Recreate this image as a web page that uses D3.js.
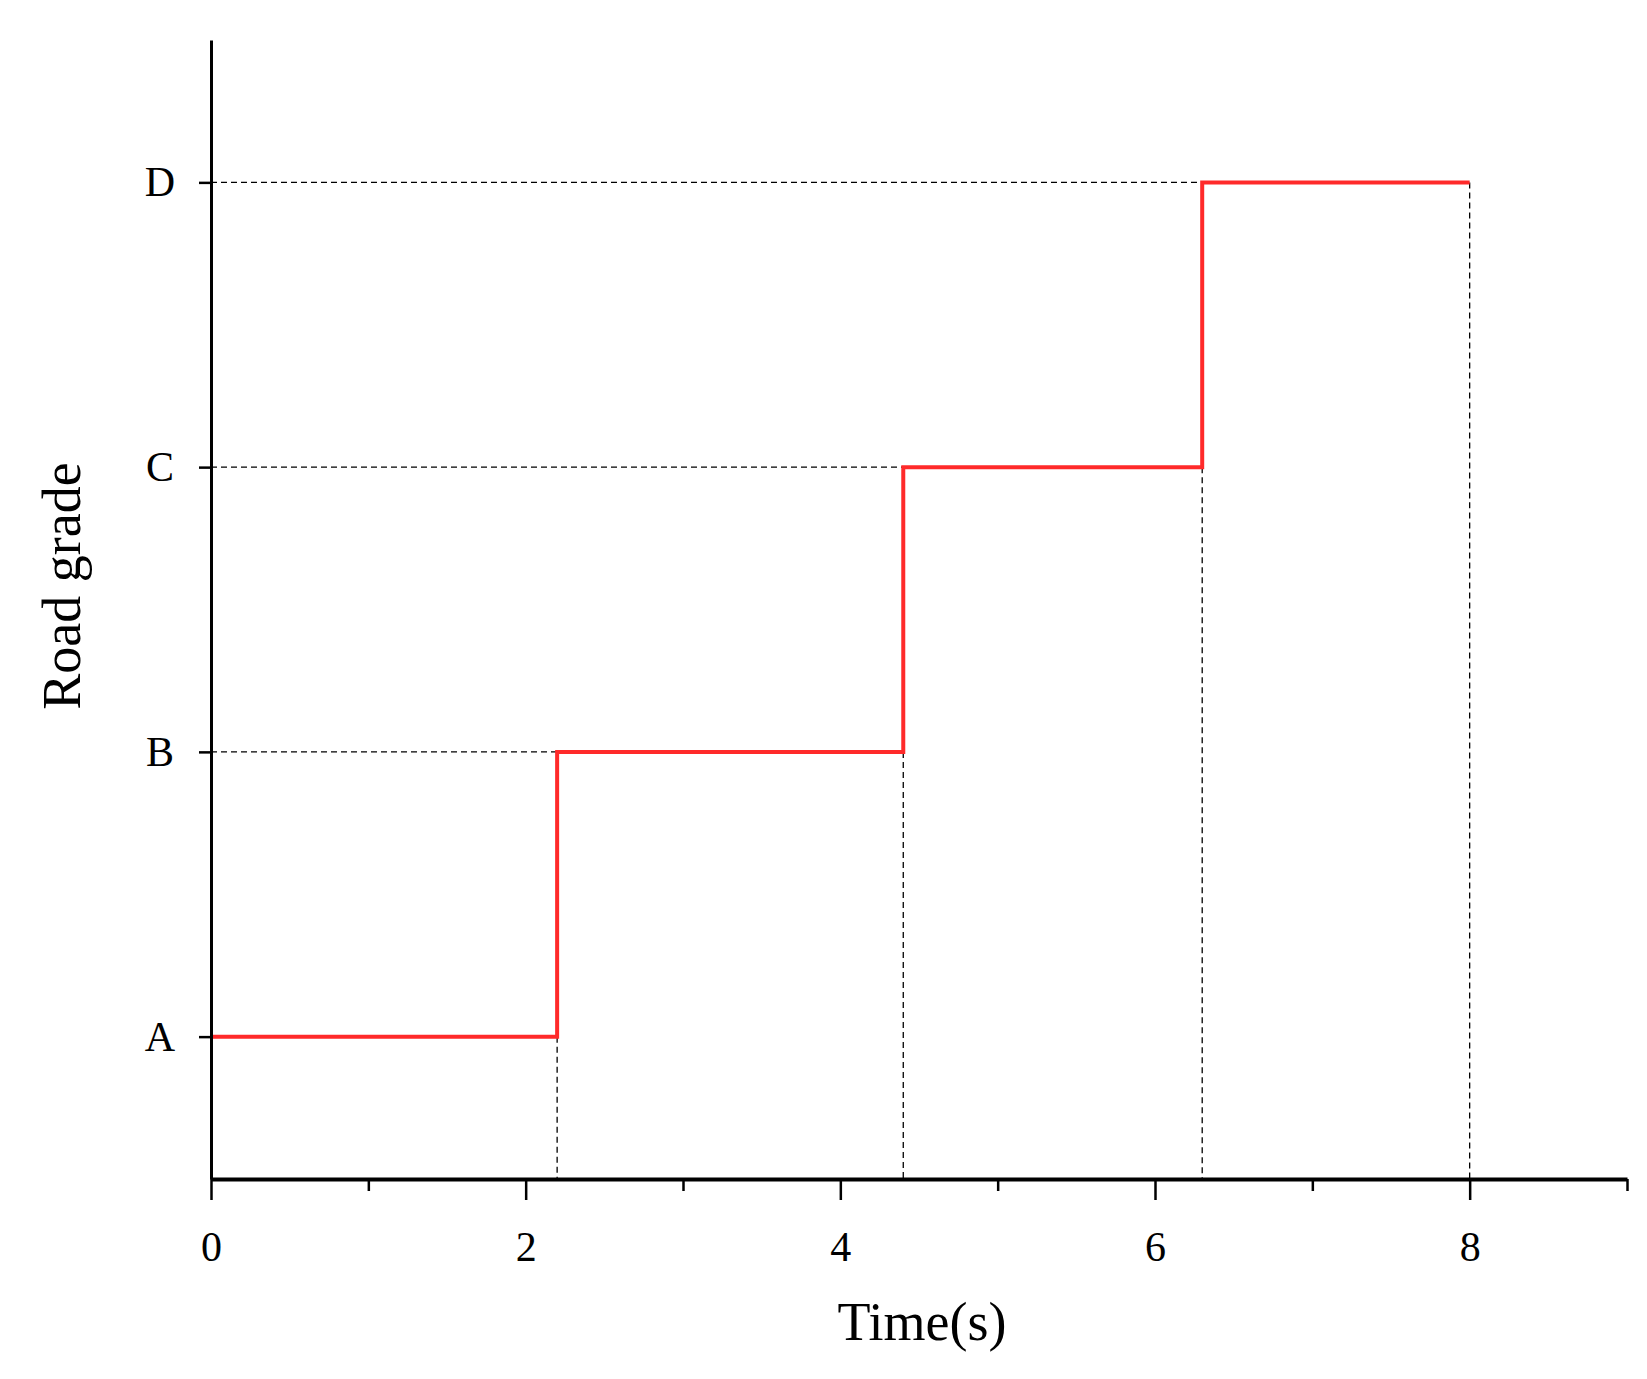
<!DOCTYPE html>
<html><head><meta charset="utf-8">
<script src="https://cdn.jsdelivr.net/npm/d3@7"></script>
<style>body{margin:0;background:#fff}svg text{font-family:"Liberation Serif","DejaVu Serif",serif}</style>
</head><body><svg id="c" width="1647" height="1379"></svg>
<script>
const categories = ["A","B","C","D"];
const stepTimes = [0, 2.2, 4.4, 6.3, 8];
const stepLevels = [1, 2, 3, 4, 4];
const xTicks = [0,2,4,6,8];
const xMinor = [1,3,5,7,9];

const svg = d3.select("#c");
const L=211, R=1627, T=40, B=1179;
const x = d3.scaleLinear().domain([0,9]).range([L,R]);
const y = d3.scaleLinear().domain([0.5,4.5]).range([B,T]);

const g = svg.append("g").attr("stroke","#000").attr("stroke-width",1.3).attr("stroke-dasharray","6,4");
categories.forEach((c,i)=>{
  const xe = i<3 ? stepTimes[i+1] : 8;
  g.append("line").attr("x1",x(0)).attr("x2",x(xe)).attr("y1",y(i+1)).attr("y2",y(i+1));
});
stepTimes.slice(1).forEach((t,i)=>{
  g.append("line").attr("x1",x(t)).attr("x2",x(t)).attr("y1",y(stepLevels[i])).attr("y2",B);
});

const pts = stepTimes.map((t,i)=>[t,stepLevels[i]]);
svg.append("path").datum(pts)
  .attr("d", d3.line().x(d=>x(d[0])).y(d=>y(d[1])).curve(d3.curveStepAfter))
  .attr("fill","none").attr("stroke","#ff2a2a").attr("stroke-width",4);

const xa = svg.append("g").attr("transform",`translate(0,${B})`)
  .call(d3.axisBottom(x).tickValues(xTicks).tickFormat(d3.format("d")).tickSize(21).tickSizeOuter(0));
xa.select(".domain").attr("stroke-width",4);
xa.selectAll(".tick line").attr("stroke-width",2.5);
xa.selectAll("text").attr("font-size",42).attr("dy",0).attr("y",82);
svg.append("g").attr("transform",`translate(0,${B})`)
  .call(d3.axisBottom(x).tickValues(xMinor).tickFormat("").tickSize(12).tickSizeOuter(0))
  .call(s=>{s.select(".domain").remove();s.selectAll("line").attr("stroke-width",2.5);});

const ya = svg.append("g").attr("transform",`translate(${L},0)`)
  .call(d3.axisLeft(y).tickValues([1,2,3,4]).tickFormat(d=>categories[d-1]).tickSize(12).tickSizeOuter(0));
ya.select(".domain").attr("stroke-width",3);
ya.selectAll(".tick line").attr("stroke-width",2.5);
ya.selectAll("text").attr("font-size",42).attr("x",-51).attr("text-anchor","middle");

svg.append("text").attr("x",922).attr("y",1340).attr("text-anchor","middle").attr("font-size",54).text("Time(s)");
svg.append("text").attr("transform","translate(80,586) rotate(-90)").attr("text-anchor","middle").attr("font-size",54).text("Road grade");
</script></body></html>
